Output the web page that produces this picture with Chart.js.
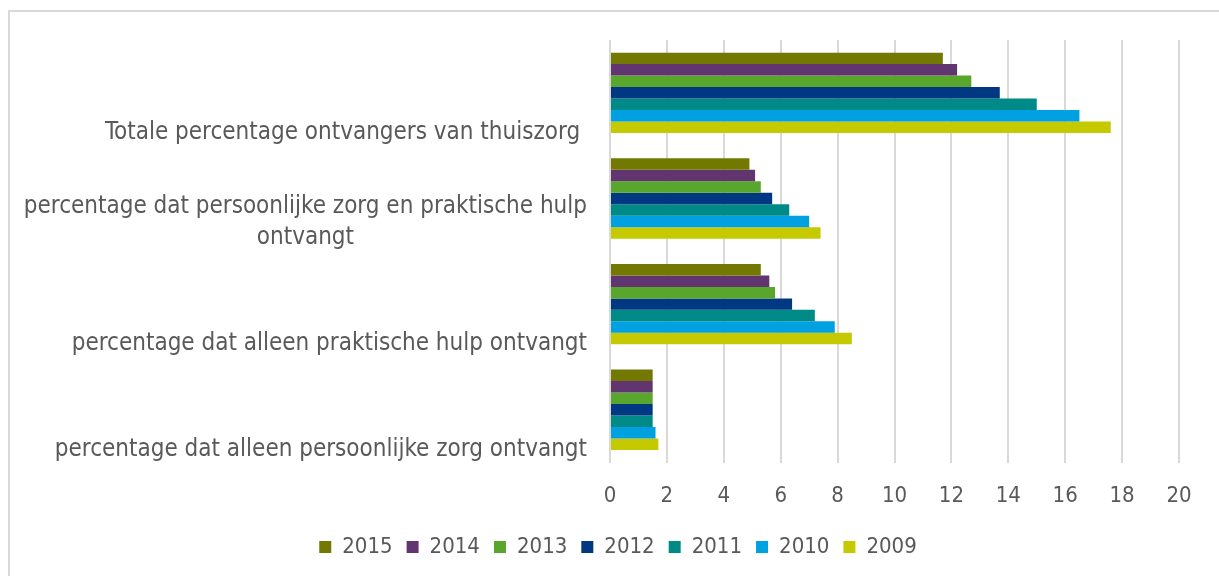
<!DOCTYPE html>
<html>
<head>
<meta charset="utf-8">
<script src="https://cdn.jsdelivr.net/npm/chart.js@4.4.1/dist/chart.umd.min.js"></script>
<style>
	html, body { margin: 0; padding: 0; background: #fff; overflow: hidden; }
	#frame { position: absolute; left: 8px; top: 10px; width: 1240px; height: 600px; border: 2px solid #d9d9d9; box-sizing: border-box; }
	#wrap { position: absolute; left: 0; top: 0; width: 1219px; height: 576px; }
</style>
</head>
<body>
<div id="frame"></div>
<div id="wrap"><canvas id="grafiek"></canvas></div>
<script>
const categorieen = [
	"Totale percentage ontvangers van thuiszorg ",
	["percentage dat persoonlijke zorg en praktische hulp", "ontvangt"],
	"percentage dat alleen praktische hulp ontvangt",
	"percentage dat alleen persoonlijke zorg ontvangt"
];

const jaren = ["2015", "2014", "2013", "2012", "2011", "2010", "2009"];

const waarden2015 = [11.7, 4.9, 5.3, 1.5];
const waarden2014 = [12.2, 5.1, 5.6, 1.5];
const waarden2013 = [12.7, 5.3, 5.8, 1.5];
const waarden2012 = [13.7, 5.7, 6.4, 1.5];
const waarden2011 = [15.0, 6.3, 7.2, 1.5];
const waarden2010 = [16.5, 7.0, 7.9, 1.6];
const waarden2009 = [17.6, 7.4, 8.5, 1.7];

const xTicks = [0, 2, 4, 6, 8, 10, 12, 14, 16, 18, 20];

const kleuren = ["#737800", "#613670", "#58a62b", "#003882", "#008a87", "#00a0e1", "#c5ca00"];

const fontFamily = "'DejaVu Sans Condensed', 'DejaVu Sans', sans-serif";
const tekstKleur = "#595959";

const alleWaarden = [waarden2015, waarden2014, waarden2013, waarden2012, waarden2011, waarden2010, waarden2009];

// category labels: block right aligned, lines centered (like the original)
const categorieLabels = {
	id: "categorieLabels",
	afterDraw(chart) {
		const ctx = chart.ctx;
		const y = chart.scales.y;
		const rechts = chart.chartArea.left - 23;
		const regel = 31;
		ctx.save();
		ctx.font = "24px " + fontFamily;
		ctx.fillStyle = tekstKleur;
		ctx.textBaseline = "alphabetic";
		ctx.textAlign = "left";
		categorieen.forEach((lab, i) => {
			const regels = Array.isArray(lab) ? lab : [lab];
			const breedte = Math.max(...regels.map(r => ctx.measureText(r).width));
			const basis = y.getPixelForValue(i) + 46;
			regels.forEach((r, j) => {
				const w = ctx.measureText(r).width;
				const py = basis - (regels.length - 1 - j) * regel;
				ctx.fillText(r, rechts - breedte + (breedte - w) / 2, py);
			});
		});
		ctx.restore();
	}
};

const data = {
	labels: categorieen.map((c, i) => i),
	datasets: jaren.map((jaar, i) => ({
		label: jaar,
		data: alleWaarden[i],
		backgroundColor: kleuren[i],
		borderWidth: 0,
		categoryPercentage: 0.761,
		barPercentage: 1
	}))
};

const options = {
	indexAxis: "y",
	responsive: true,
	maintainAspectRatio: false,
	animation: false,
	layout: {
		padding: { left: 57, right: 40, top: 40, bottom: 8 }
	},
	plugins: {
		tooltip: { enabled: false },
		legend: {
			position: "bottom",
			labels: {
				boxWidth: 12,
				boxHeight: 12,
				padding: 14,
				color: tekstKleur,
				font: { family: fontFamily, size: 22 }
			}
		}
	},
	scales: {
		x: {
			min: 0,
			max: 20,
			afterBuildTicks: s => { s.ticks = xTicks.map(v => ({ value: v })); },
			afterFit: s => { s.height -= 7; },
			grid: { color: "#d9d9d9", lineWidth: 2, drawTicks: false },
			border: { display: false },
			ticks: {
				color: tekstKleur,
				padding: 20,
				font: { family: fontFamily, size: 22 }
			}
		},
		y: {
			grid: { display: false },
			border: { display: false },
			ticks: { display: false },
			afterFit: s => { s.width = 553; }
		}
	}
};

new Chart(document.getElementById("grafiek"), {
	type: "bar",
	data: data,
	options: options,
	plugins: [categorieLabels]
});
</script>
</body>
</html>
